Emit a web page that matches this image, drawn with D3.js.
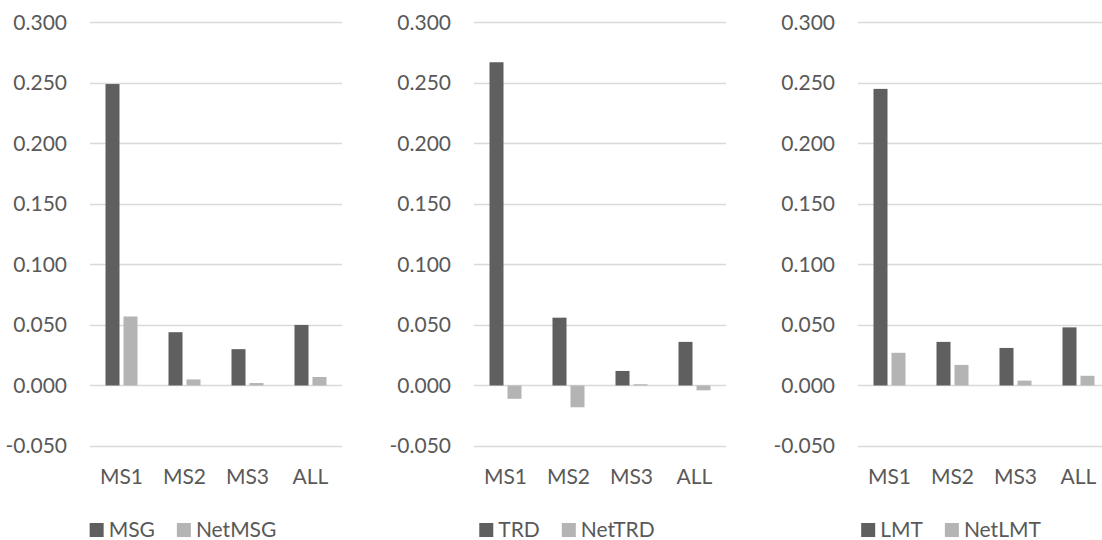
<!DOCTYPE html>
<html>
<head>
<meta charset="utf-8">
<script src="https://cdn.jsdelivr.net/npm/d3@7"></script>
<style>
  html, body { margin: 0; padding: 0; background: #ffffff; }
  svg { display: block; }
  text { font-family: Lato, "Open Sans", sans-serif; fill: #595959; }
</style>
</head>
<body>
<svg id="chart" width="1102" height="540"></svg>
<script>
// ---- data ----
const categories = ["MS1", "MS2", "MS3", "ALL"];
const yTicks = [-0.05, 0, 0.05, 0.1, 0.15, 0.2, 0.25, 0.3];

const msgValues    = [0.249, 0.044, 0.030, 0.050];
const netMsgValues = [0.057, 0.005, 0.002, 0.007];

const trdValues    = [0.267, 0.056, 0.012, 0.036];
const netTrdValues = [-0.011, -0.018, 0.001, -0.004];

const lmtValues    = [0.245, 0.036, 0.031, 0.048];
const netLmtValues = [0.027, 0.017, 0.004, 0.008];

const panels = [
  { names: ["MSG", "NetMSG"], series: [msgValues, netMsgValues] },
  { names: ["TRD", "NetTRD"], series: [trdValues, netTrdValues] },
  { names: ["LMT", "NetLMT"], series: [lmtValues, netLmtValues] }
];

// ---- layout ----
const colors = ["#5f5f5f", "#b4b4b4"];
const panelStep = 384;
const plotLeft0 = 90;
const plotWidth = 252;
const yTop = 22.3, yBottom = 446;
const fontSize = 21;

const svg = d3.select("#chart");
const fmt = v => d3.format(".3f")(v).replace("\u2212", "-");

panels.forEach((p, i) => {
  const left = plotLeft0 + i * panelStep;
  const g = svg.append("g");

  const y = d3.scaleLinear().domain([-0.05, 0.3]).range([yBottom, yTop]);
  const x = d3.scaleBand().domain(categories).range([left, left + plotWidth]);
  const xs = d3.scaleBand().domain([0, 1]).range([-16, 16]).paddingInner(4 / 18);

  // gridlines
  g.append("g")
    .selectAll("line")
    .data(yTicks)
    .join("line")
    .attr("x1", left)
    .attr("x2", left + plotWidth)
    .attr("y1", d => Math.round(y(d)) + 0.5)
    .attr("y2", d => Math.round(y(d)) + 0.5)
    .attr("stroke", "#d9d9d9")
    .attr("stroke-width", 1.6);

  // y axis labels
  const ya = g.append("g")
    .attr("transform", `translate(${left},0)`)
    .call(d3.axisLeft(y).tickValues(yTicks).tickFormat(fmt).tickSize(0).tickPadding(23));
  ya.select(".domain").remove();
  ya.selectAll("text")
    .style("font-size", fontSize + "px")
    .style("font-family", "Lato, 'Open Sans', sans-serif")
    .attr("fill", "#595959");

  // bars
  p.series.forEach((vals, s) => {
    g.append("g")
      .selectAll("rect")
      .data(vals.map((v, k) => ({ cat: categories[k], v })))
      .join("rect")
      .attr("x", d => x(d.cat) + x.bandwidth() / 2 + xs(s))
      .attr("width", xs.bandwidth())
      .attr("y", d => y(Math.max(0, d.v)))
      .attr("height", d => Math.abs(y(d.v) - y(0)))
      .attr("fill", colors[s]);
  });

  // x axis labels
  const xa = g.append("g")
    .attr("transform", `translate(0,${yBottom})`)
    .call(d3.axisBottom(x).tickSize(0));
  xa.select(".domain").remove();
  xa.selectAll("text")
    .attr("y", 31)
    .attr("dy", "0.35em")
    .style("font-size", fontSize + "px")
    .style("font-family", "Lato, 'Open Sans', sans-serif")
    .attr("fill", "#595959");

  // legend
  const center = 183 + i * panelStep;
  const lg = g.append("g");
  const sq = 14, gapSq = 5, gapItem = 22;
  const items = p.names.map((n, s) => {
    const t = lg.append("text")
      .text(n)
      .attr("y", 530)
      .attr("dy", "0.35em")
      .style("font-size", fontSize + "px");
    return { t, w: t.node().getComputedTextLength(), s };
  });
  const total = items.reduce((a, it) => a + sq + gapSq + it.w, 0) + gapItem * (items.length - 1);
  let cx = center - total / 2;
  items.forEach(it => {
    lg.append("rect")
      .attr("x", cx).attr("y", 523).attr("width", sq).attr("height", sq)
      .attr("fill", colors[it.s]);
    it.t.attr("x", cx + sq + gapSq);
    cx += sq + gapSq + it.w + gapItem;
  });
});
</script>
</body>
</html>
